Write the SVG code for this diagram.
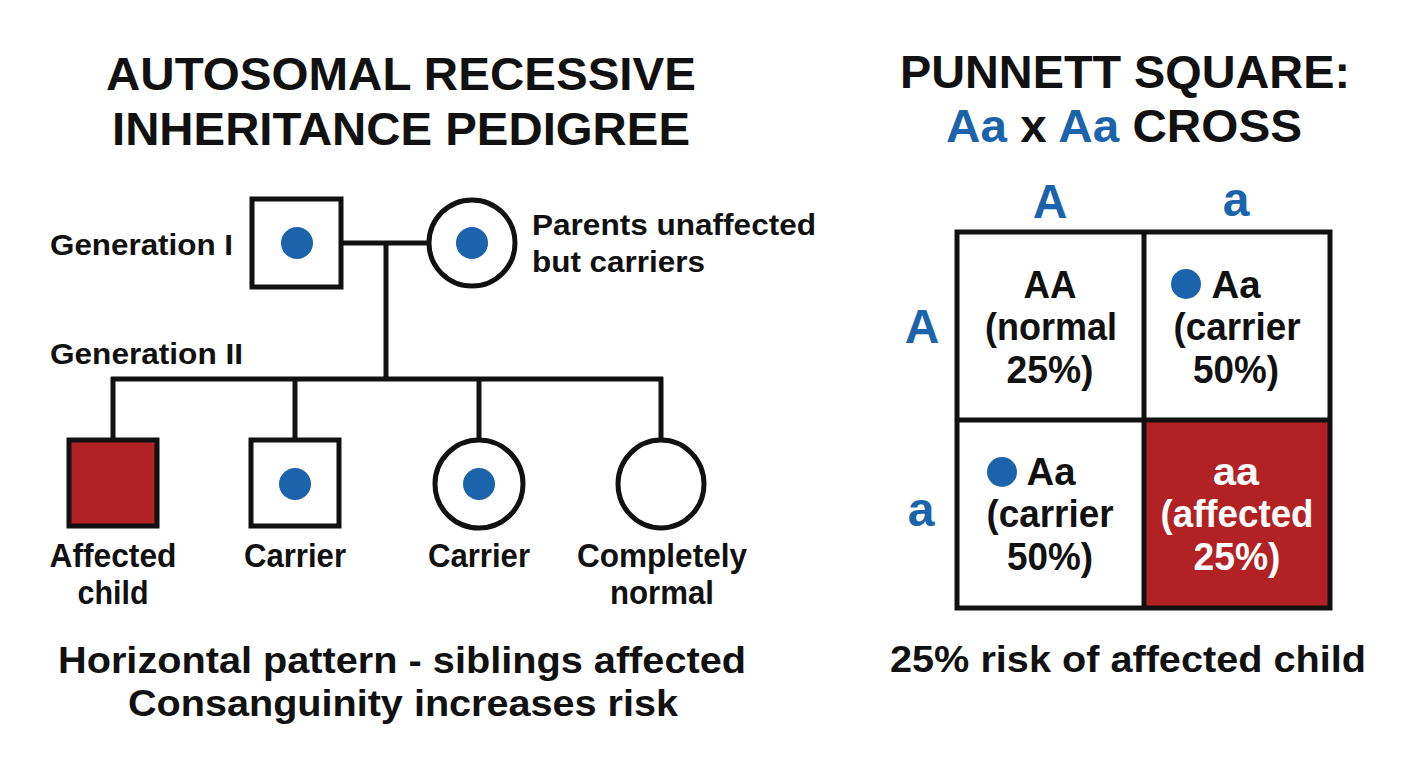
<svg xmlns="http://www.w3.org/2000/svg" width="1408" height="768" viewBox="0 0 1408 768">
<style>
text{font-family:"Liberation Sans",Arial,sans-serif;font-weight:bold;fill:#111}
.t{font-size:46px;text-anchor:middle}
.lbl{font-size:33px;text-anchor:middle}
.gen{font-size:30px}
.cap{font-size:37px;text-anchor:middle}
.cell{font-size:38px;text-anchor:middle}
.blue{fill:#1b64ab}
.allele{font-size:48px;text-anchor:middle;fill:#1b64ab}
.sym{fill:#fff;stroke:#111;stroke-width:5}
.aff{fill:#b22224;stroke:#111;stroke-width:5}
.dot{fill:#1b64ab}
.line{stroke:#111;stroke-width:5;fill:none}
.w{fill:#fff}
</style>
<rect width="1408" height="768" fill="#fff"/>
<g id="titles">
<text class="t" x="401" y="90" textLength="590" lengthAdjust="spacingAndGlyphs">AUTOSOMAL RECESSIVE</text>
<text class="t" x="401" y="145" textLength="578" lengthAdjust="spacingAndGlyphs">INHERITANCE PEDIGREE</text>
<text class="t" x="1125" y="88" textLength="450" lengthAdjust="spacingAndGlyphs">PUNNETT SQUARE:</text>
<text class="t" x="1124" y="142" textLength="356" lengthAdjust="spacingAndGlyphs"><tspan class="blue">Aa</tspan> x <tspan class="blue">Aa</tspan> CROSS</text>
</g>
<g id="connectors">
<line class="line" x1="342" y1="243" x2="428" y2="243"/>
<line class="line" x1="386" y1="243" x2="386" y2="379"/>
<line class="line" x1="111" y1="379" x2="663" y2="379"/>
<line class="line" x1="113" y1="377" x2="113" y2="440"/>
<line class="line" x1="295" y1="377" x2="295" y2="440"/>
<line class="line" x1="479" y1="377" x2="479" y2="440"/>
<line class="line" x1="661" y1="377" x2="661" y2="440"/>
</g>
<g id="gen1-father">
<rect class="sym" x="252" y="199" width="89" height="88"/>
<circle class="dot" cx="297" cy="243" r="16"/>
</g>
<g id="gen1-mother">
<circle class="sym" cx="472" cy="243" r="43"/>
<circle class="dot" cx="472" cy="243" r="16"/>
</g>
<g id="gen-labels">
<text class="gen" x="50" y="255" textLength="183" lengthAdjust="spacingAndGlyphs">Generation I</text>
<text class="gen" x="50" y="364" textLength="193" lengthAdjust="spacingAndGlyphs">Generation II</text>
<text class="gen" x="532" y="235" textLength="284" lengthAdjust="spacingAndGlyphs">Parents unaffected</text>
<text class="gen" x="532" y="272" textLength="173" lengthAdjust="spacingAndGlyphs">but carriers</text>
</g>
<g id="child-affected">
<rect class="aff" x="69" y="440" width="88" height="86"/>
<text class="lbl" x="113" y="567" textLength="127" lengthAdjust="spacingAndGlyphs">Affected</text>
<text class="lbl" x="113" y="604" textLength="71" lengthAdjust="spacingAndGlyphs">child</text>
</g>
<g id="child-carrier-m">
<rect class="sym" x="251" y="440" width="88" height="86"/>
<ellipse class="dot" cx="295" cy="484" rx="16" ry="16"/>
<text class="lbl" x="295" y="567" textLength="102" lengthAdjust="spacingAndGlyphs">Carrier</text>
</g>
<g id="child-carrier-f">
<ellipse class="sym" cx="479" cy="484" rx="44" ry="44"/>
<circle class="dot" cx="479" cy="484" r="16"/>
<text class="lbl" x="479" y="567" textLength="102" lengthAdjust="spacingAndGlyphs">Carrier</text>
</g>
<g id="child-normal">
<ellipse class="sym" cx="661" cy="484" rx="43" ry="44"/>
<text class="lbl" x="662" y="567" textLength="170" lengthAdjust="spacingAndGlyphs">Completely</text>
<text class="lbl" x="662" y="604" textLength="104" lengthAdjust="spacingAndGlyphs">normal</text>
</g>
<g id="pedigree-caption">
<text class="cap" x="402" y="673" textLength="688" lengthAdjust="spacingAndGlyphs">Horizontal pattern - siblings affected</text>
<text class="cap" x="403" y="716" textLength="550" lengthAdjust="spacingAndGlyphs">Consanguinity increases risk</text>
</g>
<g id="punnett">
<rect x="957" y="232" width="373" height="376" fill="#fff"/>
<rect x="1144" y="420" width="186" height="188" fill="#b22224"/>
<rect class="line" x="957" y="232" width="373" height="376"/>
<line class="line" x1="1144" y1="232" x2="1144" y2="608"/>
<line class="line" x1="957" y1="420" x2="1330" y2="420"/>
</g>
<g id="alleles">
<text class="allele" x="1050" y="218">A</text>
<text class="allele" x="1236" y="216">a</text>
<text class="allele" x="922" y="343">A</text>
<text class="allele" x="921" y="526">a</text>
</g>
<g id="cell-AA">
<text class="cell" x="1050" y="298" textLength="53" lengthAdjust="spacingAndGlyphs">AA</text>
<text class="cell" x="1051" y="340" textLength="132" lengthAdjust="spacingAndGlyphs">(normal</text>
<text class="cell" x="1050" y="383" textLength="87" lengthAdjust="spacingAndGlyphs">25%)</text>
</g>
<g id="cell-Aa1">
<circle class="dot" cx="1186" cy="284" r="15"/>
<text class="cell" x="1236" y="298" textLength="49" lengthAdjust="spacingAndGlyphs">Aa</text>
<text class="cell" x="1237" y="340" textLength="127" lengthAdjust="spacingAndGlyphs">(carrier</text>
<text class="cell" x="1236" y="383" textLength="86" lengthAdjust="spacingAndGlyphs">50%)</text>
</g>
<g id="cell-Aa2">
<circle class="dot" cx="1002" cy="472" r="15"/>
<text class="cell" x="1051" y="485" textLength="49" lengthAdjust="spacingAndGlyphs">Aa</text>
<text class="cell" x="1050" y="527" textLength="127" lengthAdjust="spacingAndGlyphs">(carrier</text>
<text class="cell" x="1050" y="570" textLength="86" lengthAdjust="spacingAndGlyphs">50%)</text>
</g>
<g id="cell-aa">
<text class="cell w" x="1236" y="485" textLength="46" lengthAdjust="spacingAndGlyphs">aa</text>
<text class="cell w" x="1237" y="527" textLength="153" lengthAdjust="spacingAndGlyphs">(affected</text>
<text class="cell w" x="1237" y="570" textLength="87" lengthAdjust="spacingAndGlyphs">25%)</text>
</g>
<g id="punnett-caption">
<text class="cap" x="1128" y="672" textLength="476" lengthAdjust="spacingAndGlyphs">25% risk of affected child</text>
</g>
</svg>
